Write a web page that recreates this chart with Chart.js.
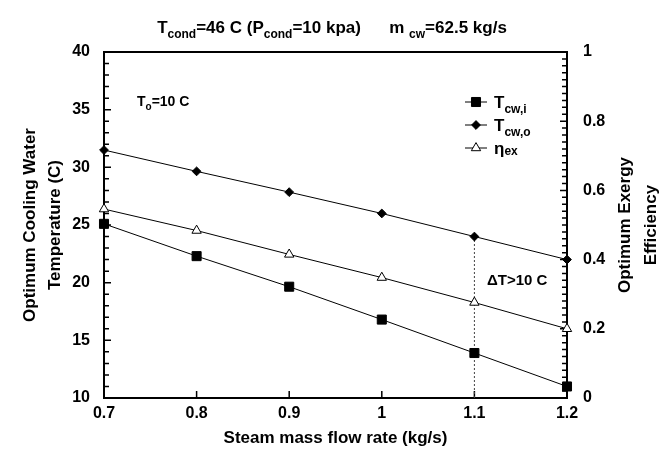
<!DOCTYPE html>
<html>
<head>
<meta charset="utf-8">
<script src="https://cdn.jsdelivr.net/npm/chart.js@4.4.0/dist/chart.umd.min.js"></script>
<style>
  html, body { margin: 0; padding: 0; background: #fff; }
</style>
</head>
<body>
<canvas id="chart" width="662" height="451"></canvas>
<script>
// values
const flowRate  = [0.7, 0.8, 0.9, 1.0, 1.1, 1.2];
const tcwIn     = [25.1, 22.3, 19.65, 16.8, 13.9, 11.0];
const tcwOut    = [31.5, 29.65, 27.85, 26.0, 24.0, 22.0];
const exergyEff = [0.546, 0.484, 0.415, 0.348, 0.276, 0.20];
const xTicks    = [0.7, 0.8, 0.9, 1.0, 1.1, 1.2];
const tempTicks = [10, 15, 20, 25, 30, 35, 40];
const effTicks  = [0, 0.2, 0.4, 0.6, 0.8, 1];
const limitFlow = 1.1;   // ΔT > 10 C from here on

const FONT = '"Liberation Sans", Arial, sans-serif';

const pts = (xs, ys) => xs.map((x, i) => ({ x: x, y: ys[i] }));

function marker(ctx, style, x, y, r) {
    ctx.beginPath();
    if (style === 'rect') {
        const s = Math.SQRT1_2 * r;
        ctx.rect(x - s, y - s, 2 * s, 2 * s);
        ctx.fillStyle = '#000';
    } else if (style === 'rectRot') {
        ctx.moveTo(x - r, y); ctx.lineTo(x, y - r);
        ctx.lineTo(x + r, y); ctx.lineTo(x, y + r);
        ctx.closePath();
        ctx.fillStyle = '#000';
    } else {
        ctx.moveTo(x, y - r);
        ctx.lineTo(x + Math.sin(2.0944) * r, y + 0.5 * r);
        ctx.lineTo(x - Math.sin(2.0944) * r, y + 0.5 * r);
        ctx.closePath();
        ctx.fillStyle = '#fff';
    }
    ctx.fill();
    ctx.lineWidth = 1;
    ctx.strokeStyle = '#000';
    ctx.stroke();
}

// text with subscripts: parts = [[text, isSub], ...]
function richText(ctx, parts, x, y, size, subSize, align) {
    const widths = parts.map(p => {
        ctx.font = `bold ${p[1] ? subSize : size}px ${FONT}`;
        return ctx.measureText(p[0]).width;
    });
    const total = widths.reduce((a, b) => a + b, 0);
    let cx = align === 'center' ? x - total / 2 : x;
    ctx.textAlign = 'left';
    ctx.textBaseline = 'alphabetic';
    parts.forEach((p, i) => {
        ctx.font = `bold ${p[1] ? subSize : size}px ${FONT}`;
        ctx.fillText(p[0], cx, p[1] ? y + (p[2] || 5) : y);
        cx += widths[i];
    });
}

const framePlugin = {
    id: 'frame',
    beforeDatasetsDraw(chart) {
        const { ctx, chartArea: a, scales } = chart;
        ctx.save();
        ctx.strokeStyle = '#000';
        // inward ticks
        ctx.lineWidth = 1.5;
        ctx.beginPath();
        xTicks.forEach(v => {
            const px = scales.x.getPixelForValue(v);
            ctx.moveTo(px, a.bottom); ctx.lineTo(px, a.bottom - 7);
        });
        for (let v = 10; v <= 40; v++) {
            const py = scales.y.getPixelForValue(v);
            const len = v % 5 === 0 ? 7 : 5;
            ctx.moveTo(a.left, py); ctx.lineTo(a.left + len, py);
        }
        for (let k = 0; k <= 50; k++) {
            const py = scales.y1.getPixelForValue(k / 50);
            const len = k % 10 === 0 ? 7 : 5;
            ctx.moveTo(a.right, py); ctx.lineTo(a.right - len, py);
        }
        ctx.stroke();
        ctx.lineWidth = 2;
        ctx.strokeRect(a.left, a.top, a.right - a.left, a.bottom - a.top);
        ctx.restore();
    },
    afterDraw(chart) {
        const { ctx, chartArea: a } = chart;
        ctx.save();
        ctx.fillStyle = '#000';

        // title
        richText(ctx, [['T'], ['cond', 1], ['=46 C (P'], ['cond', 1], ['=10 kpa)      m '], ['cw', 1], ['=62.5 kg/s']],
            332, 33, 17, 12, 'center');

        // axis titles
        ctx.font = `bold 17px ${FONT}`;
        ctx.textAlign = 'center';
        ctx.textBaseline = 'middle';
        const midY = (a.top + a.bottom) / 2;
        [['Optimum Cooling Water', 30], ['Temperature (C)', 55],
         ['Optimum Exergy', 625], ['Efficiency', 651]].forEach(([t, x]) => {
            ctx.save();
            ctx.translate(x, midY);
            ctx.rotate(-Math.PI / 2);
            ctx.fillText(t, 0, 0);
            ctx.restore();
        });
        ctx.fillText('Steam mass flow rate (kg/s)', (a.left + a.right) / 2, 438);

        // annotations
        richText(ctx, [['T'], ['o', 1, 4], ['=10 C']], 137, 106, 14, 10, 'left');
        ctx.font = `bold 15px ${FONT}`;
        ctx.textAlign = 'left';
        ctx.textBaseline = 'middle';
        ctx.fillText('\u0394T>10 C', 487, 281);

        // legend
        const rows = [
            ['rect', 6.4, [['T'], ['cw,i', 1, 5]]],
            ['rectRot', 4.4, [['T'], ['cw,o', 1, 5]]],
            ['triangle', 5.4, [['\u03b7'], ['ex', 1, 1]]]
        ];
        rows.forEach(([style, r, parts], i) => {
            const y = 102 + i * 23;
            ctx.beginPath();
            ctx.lineWidth = 1;
            ctx.strokeStyle = '#000';
            ctx.moveTo(465, y); ctx.lineTo(487, y);
            ctx.stroke();
            marker(ctx, style, 476, y, r);
            ctx.fillStyle = '#000';
            richText(ctx, parts, 494, y + 6, 17, 12, 'left');
        });
        ctx.restore();
    }
};

new Chart(document.getElementById('chart'), {
    type: 'line',
    data: {
        datasets: [{
            label: 'Tcw,i',
            data: pts(flowRate, tcwIn),
            yAxisID: 'y',
            borderColor: '#000',
            borderWidth: 1,
            pointStyle: 'rect',
            pointRadius: 6.4,
            pointBackgroundColor: '#000',
            pointBorderColor: '#000',
            clip: false
        }, {
            label: 'Tcw,o',
            data: pts(flowRate, tcwOut),
            yAxisID: 'y',
            borderColor: '#000',
            borderWidth: 1,
            pointStyle: 'rectRot',
            pointRadius: 4.4,
            pointBackgroundColor: '#000',
            pointBorderColor: '#000',
            clip: false
        }, {
            label: 'eta_ex',
            data: pts(flowRate, exergyEff),
            yAxisID: 'y1',
            borderColor: '#000',
            borderWidth: 1,
            pointStyle: 'triangle',
            pointRadius: 5.4,
            pointBackgroundColor: '#fff',
            pointBorderColor: '#000',
            clip: false
        }, {
            label: 'limit',
            data: [{ x: limitFlow, y: 10 }, { x: limitFlow, y: tcwOut[flowRate.indexOf(limitFlow)] }],
            yAxisID: 'y',
            borderColor: '#444',
            borderWidth: 1,
            borderDash: [2, 2],
            pointRadius: 0
        }]
    },
    options: {
        responsive: false,
        animation: false,
        devicePixelRatio: 1,
        layout: { padding: { top: 52, left: 0, right: 0, bottom: 0 } },
        plugins: {
            legend: { display: false },
            tooltip: { enabled: false }
        },
        scales: {
            x: {
                type: 'linear',
                min: 0.7, max: 1.2,
                afterBuildTicks: s => { s.ticks = xTicks.map(v => ({ value: v })); },
                afterFit: s => { s.height = 53; },
                ticks: {
                    color: '#000', padding: 6, maxRotation: 0, autoSkip: false,
                    font: { family: FONT, size: 16, weight: 'bold' },
                    callback: v => String(+v.toFixed(1))
                },
                grid: { display: false, drawTicks: false },
                border: { display: false }
            },
            y: {
                position: 'left',
                min: 10, max: 40,
                afterBuildTicks: s => { s.ticks = tempTicks.map(v => ({ value: v })); },
                afterFit: s => { s.width = 104; },
                ticks: {
                    color: '#000', padding: 14,
                    font: { family: FONT, size: 16, weight: 'bold' }
                },
                grid: { display: false, drawTicks: false },
                border: { display: false }
            },
            y1: {
                position: 'right',
                min: 0, max: 1,
                afterBuildTicks: s => { s.ticks = effTicks.map(v => ({ value: v })); },
                afterFit: s => { s.width = 95; },
                ticks: {
                    color: '#000', padding: 16,
                    font: { family: FONT, size: 16, weight: 'bold' },
                    callback: v => String(+v.toFixed(1))
                },
                grid: { display: false, drawTicks: false },
                border: { display: false }
            }
        }
    },
    plugins: [framePlugin]
});
</script>
</body>
</html>
